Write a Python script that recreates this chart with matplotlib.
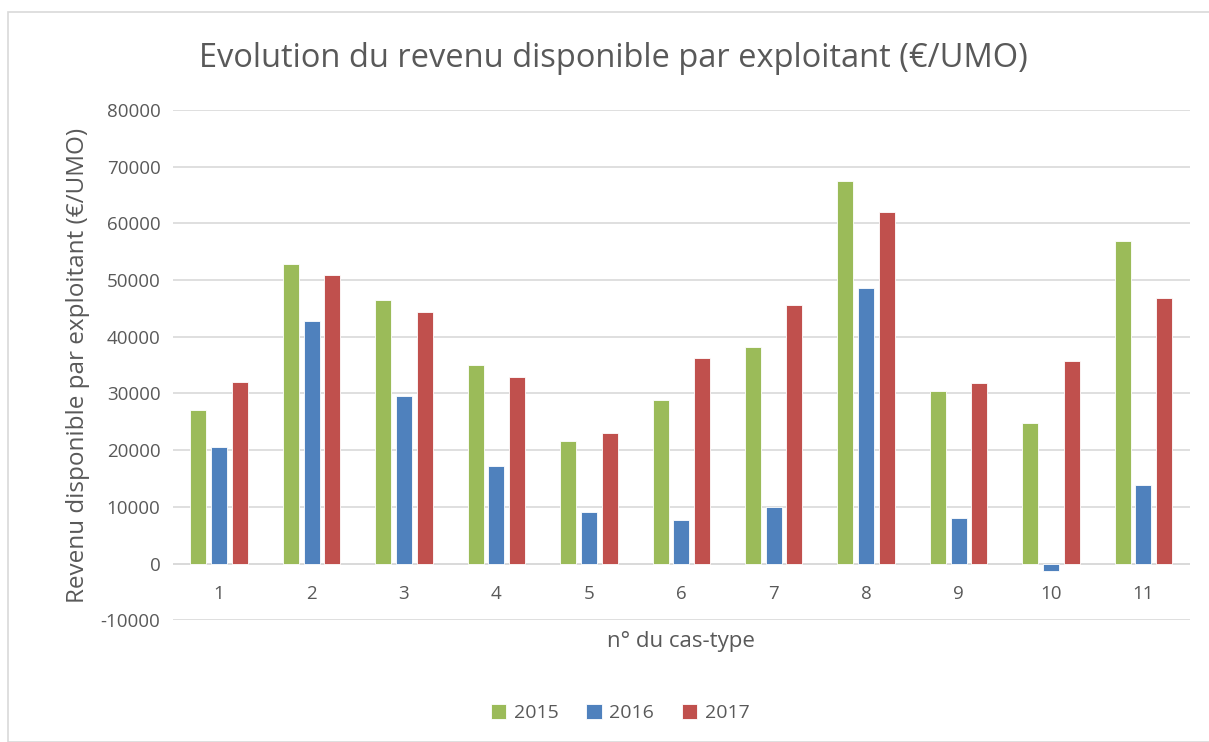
import matplotlib.pyplot as plt
import numpy as np
from matplotlib.patches import Rectangle

# Data
cas_type = ["1", "2", "3", "4", "5", "6", "7", "8", "9", "10", "11"]
rev_2015 = [27000, 52800, 46500, 35000, 21600, 28900, 38100, 67500, 30400, 24700, 56800]
rev_2016 = [20600, 42700, 29500, 17200, 9100, 7700, 10000, 48500, 8000, -1300, 13900]
rev_2017 = [32000, 50800, 44300, 32900, 23000, 36200, 45600, 62000, 31900, 35700, 46900]
years = ["2015", "2016", "2017"]
colors = ["#9BBB59", "#4F81BD", "#C0504D"]

plt.rcParams['font.family'] = ['Open Sans', 'DejaVu Sans']
txt = "#595959"

fig = plt.figure(figsize=(12.09, 7.42), dpi=100)
ax = fig.add_axes([0.143, 0.164, 0.841, 0.688])

# chart border
fig.patches.append(Rectangle((8 / 1209, 0), 1.2, 1 - 12 / 742, transform=fig.transFigure,
                             fill=False, edgecolor="#d9d9d9", linewidth=1.2))

x = np.arange(len(cas_type))
w = 0.173
step = 0.224
for i, (vals, lab, c) in enumerate(zip([rev_2015, rev_2016, rev_2017], years, colors)):
    ax.bar(x + (i - 1) * step, vals, width=w, color=c, label=lab,
           edgecolor="white", linewidth=0.6, zorder=3)

ax.set_xlim(-0.5, len(cas_type) - 0.5)
ax.set_ylim(-10000, 80000)
ax.set_yticks(np.arange(-10000, 80001, 10000))
ax.set_yticklabels([str(v) for v in range(-10000, 80001, 10000)])
ax.set_xticks(x)
ax.set_xticklabels([])
ax.tick_params(axis="both", length=0, labelsize=13.5, colors=txt)
ax.tick_params(axis="y", pad=9)
ax.yaxis.grid(True, color="#d9d9d9", linewidth=1.2, zorder=0)
ax.axhline(0, color="#d9d9d9", linewidth=1.2, zorder=1)
for s in ax.spines.values():
    s.set_visible(False)

# category labels sit just under the zero line, like Excel does
for xi, lab in zip(x, cas_type):
    ax.annotate(lab, (xi, 0), xytext=(0, -22), textcoords="offset points",
                ha="center", va="center", fontsize=13.5, color=txt)

ax.set_xlabel("n° du cas-type", fontsize=16, color=txt, labelpad=4)
ax.set_ylabel("Revenu disponible par exploitant (€/UMO)", fontsize=17.5, color=txt, labelpad=8)
fig.text(0.507, 0.921, "Evolution du revenu disponible par exploitant (€/UMO)",
         ha="center", va="center", fontsize=23.5, color=txt)

fig.legend(loc="center", bbox_to_anchor=(0.513, 0.039), ncol=3, frameon=False,
           fontsize=14, labelcolor=txt, handlelength=0.8, handleheight=0.8,
           handletextpad=0.4, columnspacing=1.4)

plt.savefig("out.png", dpi=100)
